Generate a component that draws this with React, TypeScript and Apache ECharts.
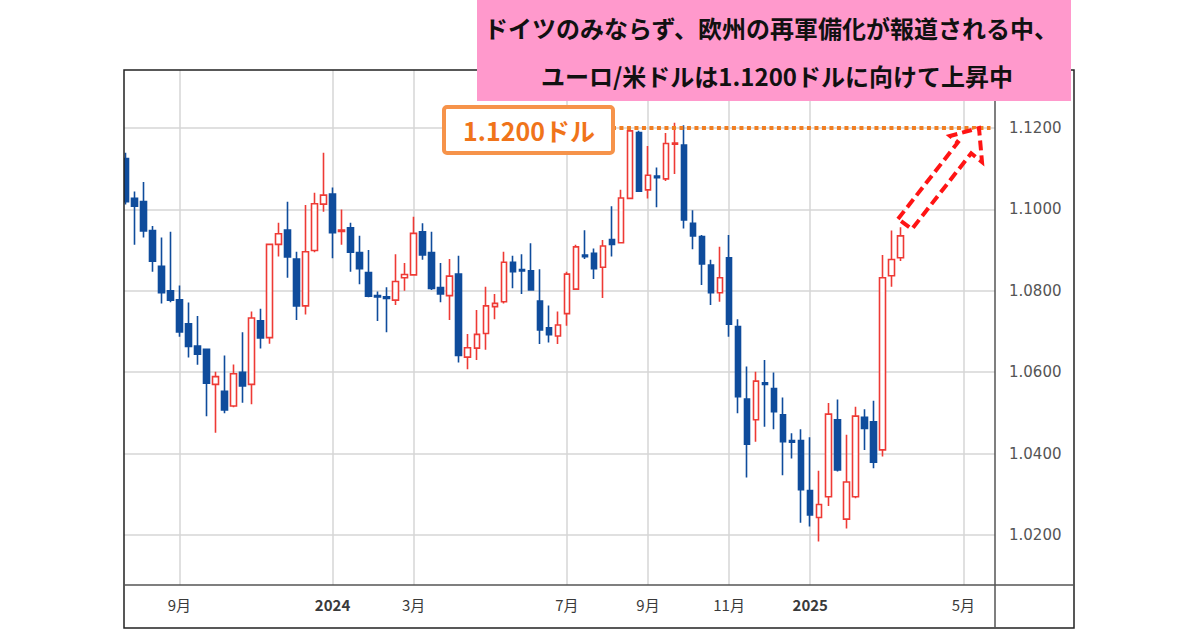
import React, { useEffect, useRef } from 'react';
import * as echarts from 'echarts';

// Weekly candles (week starting Monday) EUR/USD
const weeks = [
  '2023-07-24','2023-07-31','2023-08-07','2023-08-14','2023-08-21','2023-08-28','2023-09-04','2023-09-11','2023-09-18','2023-09-25',
  '2023-10-02','2023-10-09','2023-10-16','2023-10-23','2023-10-30','2023-11-06','2023-11-13','2023-11-20','2023-11-27','2023-12-04',
  '2023-12-11','2023-12-18','2023-12-25','2024-01-01','2024-01-08','2024-01-15','2024-01-22','2024-01-29','2024-02-05','2024-02-12',
  '2024-02-19','2024-02-26','2024-03-04','2024-03-11','2024-03-18','2024-03-25','2024-04-01','2024-04-08','2024-04-15','2024-04-22',
  '2024-04-29','2024-05-06','2024-05-13','2024-05-20','2024-05-27','2024-06-03','2024-06-10','2024-06-17','2024-06-24','2024-07-01',
  '2024-07-08','2024-07-15','2024-07-22','2024-07-29','2024-08-05','2024-08-12','2024-08-19','2024-08-26','2024-09-02','2024-09-09',
  '2024-09-16','2024-09-23','2024-09-30','2024-10-07','2024-10-14','2024-10-21','2024-10-28','2024-11-04','2024-11-11','2024-11-18',
  '2024-11-25','2024-12-02','2024-12-09','2024-12-16','2024-12-23','2024-12-30','2025-01-06','2025-01-13','2025-01-20','2025-01-27',
  '2025-02-03','2025-02-10','2025-02-17','2025-02-24','2025-03-03','2025-03-10','2025-03-17','2025-03-24','2025-03-31','2025-04-07',
  '2025-04-14','2025-04-21','2025-04-28','2025-05-05','2025-05-12','2025-05-19','2025-05-26',
];

const opens = [
  1.1125, 1.1027, 1.1019, 1.0948, 1.0860, 1.0800, 1.0778, 1.0719, 1.0664, 1.0656,
  1.0570, 1.0553, 1.0517, 1.0600, 1.0570, 1.0726, 1.0685, 1.0914, 1.0949, 1.0878,
  1.0763, 1.0899, 1.1013, 1.1038, 1.0946, 1.0955, 1.0894, 1.0845, 1.0788, 1.0785,
  1.0777, 1.0832, 1.0839, 1.0945, 1.0894, 1.0808, 1.0788, 1.0841, 1.0637, 1.0659,
  1.0695, 1.0761, 1.0773, 1.0870, 1.0852, 1.0849, 1.0775, 1.0709, 1.0689, 1.0744,
  1.0804, 1.0888, 1.0892, 1.0858, 1.0926, 1.0918, 1.1027, 1.1189, 1.1048, 1.1082,
  1.1075, 1.1160, 1.1158, 1.0966, 1.0933, 1.0863, 1.0795, 1.0881, 1.0712, 1.0534,
  1.0483, 1.0574, 1.0560, 1.0495, 1.0432, 1.0432, 1.0309, 1.0243, 1.0294, 1.0483,
  1.0239, 1.0294, 1.0489, 1.0478, 1.0409, 1.0837, 1.0881,
];
const closes = [
  1.1019, 1.1008, 1.0947, 1.0873, 1.0795, 1.0777, 1.0699, 1.0663, 1.0644, 1.0573,
  1.0589, 1.0507, 1.0596, 1.0566, 1.0733, 1.0684, 1.0914, 1.0940, 1.0883, 1.0763,
  1.0896, 1.1014, 1.1035, 1.0943, 1.0949, 1.0895, 1.0854, 1.0787, 1.0785, 1.0781,
  1.0823, 1.0840, 1.0941, 1.0888, 1.0806, 1.0792, 1.0836, 1.0641, 1.0660, 1.0693,
  1.0763, 1.0769, 1.0870, 1.0847, 1.0849, 1.0802, 1.0704, 1.0692, 1.0716, 1.0841,
  1.0908, 1.0884, 1.0854, 1.0910, 1.0914, 1.1028, 1.1193, 1.1045, 1.1084, 1.1078,
  1.1162, 1.1163, 1.0974, 1.0935, 1.0866, 1.0795, 1.0832, 1.0718, 1.0540, 1.0423,
  1.0578, 1.0570, 1.0503, 1.0429, 1.0428, 1.0311, 1.0249, 1.0275, 1.0497, 1.0360,
  1.0330, 1.0492, 1.0462, 1.0379, 1.0832, 1.0877, 1.0935,
];
const lows = [
  1.1012, 1.0913, 1.0931, 1.0847, 1.0769, 1.0772, 1.0687, 1.0636, 1.0618, 1.0492,
  1.0451, 1.0499, 1.0514, 1.0525, 1.0521, 1.0658, 1.0670, 1.0884, 1.0832, 1.0728,
  1.0742, 1.0895, 1.0994, 1.0880, 1.0913, 1.0847, 1.0816, 1.0784, 1.0726, 1.0698,
  1.0765, 1.0800, 1.0839, 1.0876, 1.0802, 1.0772, 1.0728, 1.0624, 1.0607, 1.0630,
  1.0655, 1.0730, 1.0769, 1.0806, 1.0792, 1.0800, 1.0669, 1.0673, 1.0669, 1.0714,
  1.0802, 1.0878, 1.0829, 1.0782, 1.0884, 1.0917, 1.1027, 1.1045, 1.1027, 1.1005,
  1.1070, 1.1087, 1.0953, 1.0902, 1.0814, 1.0765, 1.0773, 1.0687, 1.0499, 1.0341,
  1.0429, 1.0466, 1.0460, 1.0347, 1.0388, 1.0230, 1.0221, 1.0184, 1.0271, 1.0356,
  1.0216, 1.0290, 1.0409, 1.0364, 1.0393, 1.0810, 1.0873,
];
const highs = [
  1.1139, 1.1044, 1.1067, 1.0959, 1.0931, 1.0945, 1.0813, 1.0771, 1.0738, 1.0656,
  1.0601, 1.0641, 1.0619, 1.0698, 1.0749, 1.0756, 1.0916, 1.0967, 1.1019, 1.0896,
  1.1011, 1.1041, 1.1139, 1.1054, 1.1000, 1.0967, 1.0935, 1.0900, 1.0798, 1.0809,
  1.0890, 1.0868, 1.0982, 1.0966, 1.0945, 1.0868, 1.0878, 1.0886, 1.0694, 1.0753,
  1.0810, 1.0792, 1.0896, 1.0886, 1.0890, 1.0917, 1.0853, 1.0764, 1.0749, 1.0847,
  1.0913, 1.0949, 1.0904, 1.0925, 1.1008, 1.1048, 1.1199, 1.1193, 1.1156, 1.1103,
  1.1188, 1.1213, 1.1207, 1.0998, 1.0937, 1.0876, 1.0908, 1.0937, 1.0730, 1.0614,
  1.0601, 1.0630, 1.0599, 1.0538, 1.0450, 1.0460, 1.0440, 1.0358, 1.0524, 1.0533,
  1.0446, 1.0515, 1.0509, 1.0530, 1.0888, 1.0948, 1.0956,
];

// x-axis labelled weeks
const tickWeeks = ['2023-09-04', '2024-01-01', '2024-03-04', '2024-07-01', '2024-09-02', '2024-11-04', '2025-01-06', '2025-05-05'];
const tickLabels = ['9月', '2024', '3月', '7月', '9月', '11月', '2025', '5月'];

// target level
const TARGET = 1.12;
const targetFrom = '2024-08-05';
const targetTo = '2025-05-26';
const TARGET_LABEL = '1.1200ドル';
const TITLE_1 = 'ドイツのみならず、欧州の再軍備化が報道される中、';
const TITLE_2 = 'ユーロ/米ドルは1.1200ドルに向けて上昇中';

const BLUE = '#0F4C9C';
const RED = '#EE3A35';
const ORANGE_LINE = '#F07E22';
const ORANGE_TEXT = '#F0741A';
const ORANGE_BORDER = '#F6934A';
const PINK = '#FF99CC';
const GRID = '#D6D6D6';
const CJK = '"Noto Sans CJK JP", "Noto Sans", sans-serif';

const Y_MIN = 1.00771;
const Y_MAX = 1.13425;

export default function App() {
  const ref = useRef<HTMLDivElement>(null);

  useEffect(() => {
    if (!ref.current) return;
    const chart = echarts.init(ref.current, undefined, { renderer: 'svg' });

    const candles = opens.map((o, i) => [o, closes[i], lows[i], highs[i]]);
    const tickIdx = tickWeeks.map((w) => weeks.indexOf(w));

    // arrow outline (block arrow pointing to the target)
    const arrowPts = [
      [898, 219], [957.9, 142.4], [950, 136], [979, 128], [982, 162], [971.2, 153.3], [912, 229],
    ];

    const option: any = {
      animation: false,
      backgroundColor: '#ffffff',
      grid: { left: 120.75, right: 205, top: 70, bottom: 45, containLabel: false },
      xAxis: {
        type: 'category',
        data: weeks,
        boundaryGap: true,
        axisLine: { show: false },
        axisTick: { show: false },
        axisLabel: {
          interval: (index: number) => tickIdx.includes(index),
          hideOverlap: false,
          margin: 12,
          formatter: (value: string) => {
            const k = tickWeeks.indexOf(value);
            if (k < 0) return '';
            const t = tickLabels[k];
            return /^\d{4}$/.test(t) ? `{y|${t}}` : `{m|${t}}`;
          },
          rich: {
            y: { fontSize: 15, fontWeight: 'bold', color: '#3a3a3a', fontFamily: CJK },
            m: { fontSize: 15, color: '#3a3a3a', fontFamily: CJK },
          },
        },
        splitLine: {
          show: true,
          alignWithLabel: true,
          interval: (index: number) => tickIdx.includes(index),
          lineStyle: { color: GRID, width: 1.5 },
        },
      },
      yAxis: {
        type: 'value',
        position: 'right',
        min: Y_MIN,
        max: Y_MAX,
        splitNumber: 6,
        scale: true,
        axisLine: { show: false },
        axisTick: { show: false },
        axisLabel: {
          showMinLabel: false,
          showMaxLabel: false,
          margin: 14,
          align: 'left',
          color: '#555555',
          fontSize: 15,
          fontFamily: '"DejaVu Sans", sans-serif',
          formatter: (v: number) => v.toFixed(4),
        },
        splitLine: {
          show: true,
          showMinLine: false,
          showMaxLine: false,
          lineStyle: { color: GRID, width: 1.5 },
        },
      },
      series: [
        {
          type: 'candlestick',
          data: candles,
          barWidth: 6,
          clip: true,
          itemStyle: {
            color: '#ffffff',
            color0: BLUE,
            borderColor: RED,
            borderColor0: BLUE,
            borderWidth: 1.6,
          },
          markLine: {
            silent: true,
            symbol: ['none', 'none'],
            label: { show: false },
            lineStyle: { color: ORANGE_LINE, width: 4, type: [4, 3.5], cap: 'butt' },
            data: [[{ coord: [targetFrom, TARGET] }, { coord: [targetTo, TARGET] }]],
          },
        },
      ],
      graphic: [
        // cover the clipped part left of the frame
        { type: 'rect', z: 50, silent: true, shape: { x: 110, y: 60, width: 14, height: 570 }, style: { fill: '#ffffff' } },
        // outer frame
        { type: 'rect', z: 60, silent: true, shape: { x: 124, y: 70, width: 950, height: 558 }, style: { fill: 'none', stroke: '#222222', lineWidth: 1.5 } },
        // x axis line
        { type: 'line', z: 60, silent: true, shape: { x1: 124, y1: 585, x2: 1074, y2: 585 }, style: { stroke: '#555555', lineWidth: 1.5 } },
        // price scale separator
        { type: 'line', z: 60, silent: true, shape: { x1: 995, y1: 70, x2: 995, y2: 628 }, style: { stroke: '#555555', lineWidth: 1.5 } },
        // target label box
        { type: 'rect', z: 70, silent: true, shape: { x: 444, y: 107, width: 169, height: 46, r: 3 }, style: { fill: '#ffffff', stroke: ORANGE_BORDER, lineWidth: 4 } },
        {
          type: 'text', z: 71, silent: true, x: 529, y: 130,
          style: { text: TARGET_LABEL, fill: ORANGE_TEXT, fontSize: 25, fontWeight: 'bold', fontFamily: CJK, align: 'center', verticalAlign: 'middle' },
        },
        // dashed arrow
        {
          type: 'polygon', z: 70, silent: true,
          shape: { points: arrowPts },
          style: { fill: '#ffffff', stroke: '#FF1414', lineWidth: 4, lineDash: [10, 5] },
        },
        // pink title box
        { type: 'rect', z: 80, silent: true, shape: { x: 477, y: 0, width: 594, height: 101 }, style: { fill: PINK } },
        {
          type: 'text', z: 81, silent: true, x: 771, y: 27,
          style: { text: TITLE_1, fill: '#111111', fontSize: 24, fontWeight: 'bold', fontFamily: CJK, align: 'center', verticalAlign: 'middle' },
        },
        {
          type: 'text', z: 81, silent: true, x: 777, y: 75,
          style: { text: TITLE_2, fill: '#111111', fontSize: 24, fontWeight: 'bold', fontFamily: CJK, align: 'center', verticalAlign: 'middle' },
        },
      ],
    };

    chart.setOption(option);
    return () => chart.dispose();
  }, []);

  return (
    <div
      ref={ref}
      style={{ position: 'fixed', left: 0, top: 0, width: 1200, height: 630, background: '#ffffff' }}
    />
  );
}
